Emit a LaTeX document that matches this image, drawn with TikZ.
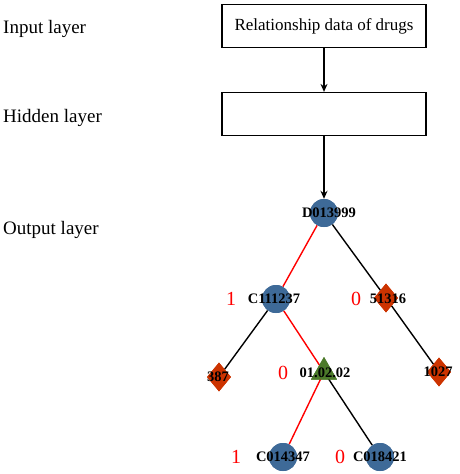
\documentclass[tikz,border=0pt]{standalone}
\usepackage{fontspec}
\setmainfont{Liberation Serif}
\usetikzlibrary{shapes.geometric,arrows.meta}
\definecolor{cblue}{RGB}{62,106,152}
\definecolor{dred}{RGB}{204,51,0}
\definecolor{tgreen}{RGB}{76,122,42}
\definecolor{lred}{RGB}{255,0,0}
\begin{document}
\begin{tikzpicture}[x=1pt,y=-1pt,
  layerlbl/.style={anchor=west,font=\fontsize{19}{22}\selectfont,inner sep=0pt},
  boxnode/.style={draw,line width=1.2pt,minimum width=204pt,minimum height=43pt,inner sep=0pt,font=\fontsize{17}{20}\selectfont},
  circnode/.style={circle,fill=cblue,minimum size=28pt,inner sep=0pt},
  dianode/.style={diamond,fill=dred,minimum width=24pt,minimum height=29pt,inner sep=0pt},
  trinode/.style={regular polygon,regular polygon sides=3,fill=tgreen,minimum size=30pt,inner sep=0pt},
  lbl/.style={font=\bfseries\fontsize{14.5}{16}\selectfont,inner sep=0pt},
  bit/.style={text=lred,font=\fontsize{20}{22}\selectfont,inner sep=0pt},
  redline/.style={draw=lred,line width=1.4pt},
  blkline/.style={draw=black,line width=1.4pt},
  arr/.style={draw,line width=1.4pt,-{Stealth[length=8pt,width=7pt]}}]
\useasboundingbox (0,0) rectangle (459,474);
% layer labels
\node[layerlbl] (lin) at (3,29) {Input layer};
\node[layerlbl] (lhid) at (3,118) {Hidden layer};
\node[layerlbl] (lout) at (3,230) {Output layer};
% boxes
\node[boxnode] (inbox) at (324,26) {Relationship data of drugs};
\node[boxnode] (hidbox) at (324,114) {};
% tree nodes (shapes)
\node[circnode] (d) at (324,213) {};
\node[circnode] (c1) at (276,299) {};
\node[dianode] (s5) at (386,298) {};
\node[dianode] (s387) at (219,377) {};
\node[trinode] (t) at (324,372) {};
\node[dianode] (s1027) at (439,372) {};
\node[circnode] (c14) at (283,457) {};
\node[circnode] (c18) at (380,457) {};
% edges
\draw[arr] (inbox.south) -- (hidbox.north);
\draw[arr] (hidbox.south) -- (d.north);
\draw[redline] (d) -- (c1);
\draw[blkline] (d) -- (s5);
\draw[blkline] (c1) -- (s387);
\draw[redline] (c1) -- (t.center);
\draw[blkline] (s5) -- (s1027);
\draw[redline] (t.center) -- (c14);
\draw[blkline] (t.center) -- (c18);
% redraw shapes over edges
\node[circnode] at (d) {};
\node[circnode] at (c1) {};
\node[dianode] at (s5) {};
\node[dianode] at (s387) {};
\node[trinode] at (t) {};
\node[dianode] at (s1027) {};
\node[circnode] at (c14) {};
\node[circnode] at (c18) {};
% labels
\node[lbl] (ld) at (329,213) {D013999};
\node[lbl] (lc1) at (274,299) {C111237};
\node[lbl] (l5) at (388,299) {51316};
\node[lbl] (l387) at (218,377) {387};
\node[lbl] (lt) at (325,373) {01.02.02};
\node[lbl] (l1027) at (438,372) {1027};
\node[lbl] (lc14) at (283,457) {C014347};
\node[lbl] (lc18) at (380,457) {C018421};
% bits
\node[bit] (b1) at (231,299) {1};
\node[bit] (b2) at (356,299) {0};
\node[bit] (b3) at (283,373) {0};
\node[bit] (b4) at (236,457) {1};
\node[bit] (b5) at (340,457) {0};
\end{tikzpicture}
\end{document}
